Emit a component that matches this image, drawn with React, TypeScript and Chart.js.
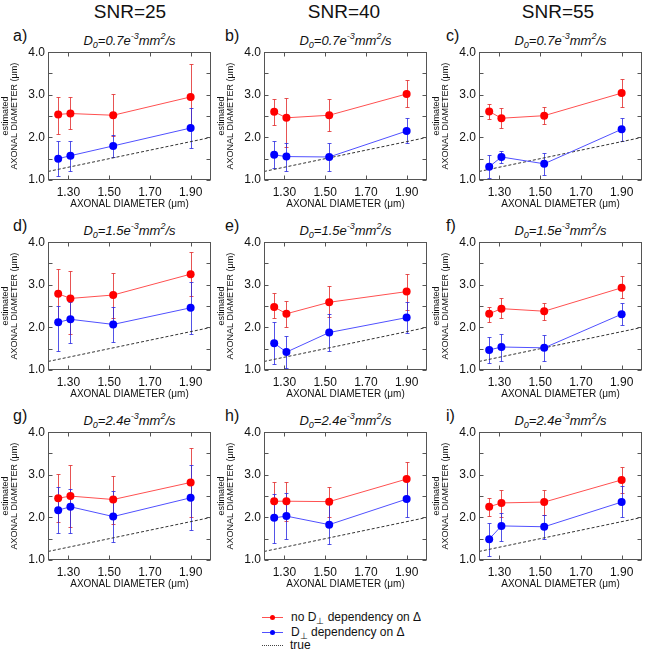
import React, { useEffect, useRef } from 'react';
import { Chart, registerables } from 'chart.js';

Chart.register(...registerables);

const FONT = '"Liberation Sans", Arial, Helvetica, sans-serif';

// ---------- data ----------
const diameters = [1.25, 1.31, 1.52, 1.9];
const trueLine = [1.2, 2.0];
const xTickValues = [1.3, 1.5, 1.7, 1.9];
const snrLabels = ['SNR=25', 'SNR=40', 'SNR=55'];
const d0Labels = ['0.7', '1.5', '2.4'];
const panelLetters = ['a)', 'b)', 'c)', 'd)', 'e)', 'f)', 'g)', 'h)', 'i)'];
const legendLabels = ['no D', 'D', 'true'];

// panel a (D0=0.7, SNR=25)
const aRed = [2.54, 2.56, 2.52, 2.95];
const aRedLo = [2.09, 2.19, 2.03, 2.2];
const aRedHi = [2.96, 2.94, 3.01, 3.72];
const aBlue = [1.5, 1.57, 1.8, 2.22];
const aBlueLo = [1.1, 1.21, 1.54, 1.76];
const aBlueHi = [1.91, 1.91, 2.05, 2.69];
// panel b (D0=0.7, SNR=40)
const bRed = [2.6, 2.46, 2.52, 3.02];
const bRedLo = [2.28, 1.78, 2.15, 2.71];
const bRedHi = [2.9, 2.93, 2.9, 3.34];
const bBlue = [1.59, 1.55, 1.54, 2.15];
const bBlueLo = [1.27, 1.2, 1.2, 1.86];
const bBlueHi = [1.92, 1.88, 1.86, 2.45];
// panel c (D0=0.7, SNR=55)
const cRed = [2.61, 2.45, 2.51, 3.04];
const cRedLo = [2.44, 2.21, 2.31, 2.71];
const cRedHi = [2.78, 2.68, 2.72, 3.37];
const cBlue = [1.31, 1.54, 1.38, 2.19];
const cBlueLo = [1.05, 1.39, 1.12, 1.92];
const cBlueHi = [1.58, 1.69, 1.64, 2.46];
// panel d (D0=1.5, SNR=25)
const dRed = [2.79, 2.68, 2.76, 3.25];
const dRedLo = [2.2, 1.85, 2.23, 2.74];
const dRedHi = [3.36, 3.33, 3.27, 3.78];
const dBlue = [2.12, 2.19, 2.07, 2.46];
const dBlueLo = [1.45, 1.64, 1.66, 1.85];
const dBlueHi = [2.5, 2.6, 2.48, 3.06];
// panel e (D0=1.5, SNR=40)
const eRed = [2.48, 2.32, 2.59, 2.84];
const eRedLo = [2.21, 2.02, 2.24, 2.41];
const eRedHi = [2.8, 2.61, 2.97, 3.26];
const eBlue = [1.63, 1.42, 1.88, 2.23];
const eBlueLo = [1.14, 1.05, 1.45, 1.88];
const eBlueHi = [2.12, 1.8, 2.32, 2.6];
// panel f (D0=1.5, SNR=55)
const fRed = [2.32, 2.44, 2.38, 2.93];
const fRedLo = [2.13, 2.21, 2.18, 2.68];
const fRedHi = [2.49, 2.68, 2.57, 3.2];
const fBlue = [1.47, 1.54, 1.52, 2.31];
const fBlueLo = [1.17, 1.22, 1.2, 2.05];
const fBlueHi = [1.78, 1.85, 1.83, 2.57];
// panel g (D0=2.4, SNR=25)
const gRed = [2.45, 2.5, 2.42, 2.82];
const gRedLo = [1.89, 1.78, 1.85, 2.02];
const gRedHi = [3.01, 3.23, 2.97, 3.62];
const gBlue = [2.17, 2.25, 2.02, 2.46];
const gBlueLo = [1.63, 1.63, 1.42, 1.7];
const gBlueHi = [2.72, 2.67, 2.61, 3.23];
// panel h (D0=2.4, SNR=40)
const hRed = [2.38, 2.38, 2.37, 2.9];
const hRedLo = [1.94, 1.92, 2.02, 2.49];
const hRedHi = [2.82, 2.84, 2.71, 3.29];
const hBlue = [1.99, 2.03, 1.83, 2.43];
const hBlueLo = [1.41, 1.49, 1.37, 2.02];
const hBlueHi = [2.54, 2.57, 2.32, 2.92];
// panel i (D0=2.4, SNR=55)
const iRed = [2.25, 2.34, 2.36, 2.88];
const iRedLo = [2.03, 2.02, 2.06, 2.58];
const iRedHi = [2.46, 2.64, 2.64, 3.18];
const iBlue = [1.49, 1.8, 1.78, 2.36];
const iBlueLo = [1.09, 1.45, 1.49, 2.0];
const iBlueHi = [1.88, 2.1, 2.06, 2.74];

const panels = [
  [aRed, aRedLo, aRedHi, aBlue, aBlueLo, aBlueHi],
  [bRed, bRedLo, bRedHi, bBlue, bBlueLo, bBlueHi],
  [cRed, cRedLo, cRedHi, cBlue, cBlueLo, cBlueHi],
  [dRed, dRedLo, dRedHi, dBlue, dBlueLo, dBlueHi],
  [eRed, eRedLo, eRedHi, eBlue, eBlueLo, eBlueHi],
  [fRed, fRedLo, fRedHi, fBlue, fBlueLo, fBlueHi],
  [gRed, gRedLo, gRedHi, gBlue, gBlueLo, gBlueHi],
  [hRed, hRedLo, hRedHi, hBlue, hBlueLo, hBlueHi],
  [iRed, iRedLo, iRedHi, iBlue, iBlueLo, iBlueHi],
];

// ---------- layout ----------
const PLOT_LEFT = [48, 264, 479];
const PLOT_TOP = [52, 242, 432];
const CANVAS_W = 215;
const CANVAS_H = 172;
const PAD_LEFT = 48;
const PAD_TOP = 10;

const RED_PT = '#ff0000';
const RED_LINE = 'rgb(255,80,80)';
const RED_BAR = 'rgba(225,40,40,0.8)';
const BLUE_PT = '#0000ff';
const BLUE_LINE = 'rgb(80,80,255)';
const BLUE_BAR = 'rgba(40,40,225,0.8)';
const FRAME = '#555555';

function makeDecorPlugin(bars: { lo: number[]; hi: number[]; color: string }[]) {
  return {
    id: 'panelDecor',
    beforeDatasetsDraw(chart: any) {
      const { ctx } = chart;
      const xs = chart.scales.x;
      const ys = chart.scales.y;
      for (const bar of bars) {
        ctx.save();
        ctx.strokeStyle = bar.color;
        ctx.lineWidth = 1;
        bar.lo.forEach((lo, i) => {
          const x = Math.round(xs.getPixelForValue(diameters[i])) + 0.5;
          const y1 = Math.round(ys.getPixelForValue(lo)) + 0.5;
          const y2 = Math.round(ys.getPixelForValue(bar.hi[i])) + 0.5;
          ctx.beginPath();
          ctx.moveTo(x, y1);
          ctx.lineTo(x, y2);
          ctx.moveTo(x - 2, y1);
          ctx.lineTo(x + 2, y1);
          ctx.moveTo(x - 2, y2);
          ctx.lineTo(x + 2, y2);
          ctx.stroke();
        });
        ctx.restore();
      }
    },
    afterDraw(chart: any) {
      const { ctx, chartArea: a } = chart;
      const xs = chart.scales.x;
      const ys = chart.scales.y;
      ctx.save();
      ctx.strokeStyle = FRAME;
      ctx.lineWidth = 1;
      const l = Math.round(a.left) + 0.5;
      const r = Math.round(a.right) - 0.5;
      const t = Math.round(a.top) + 0.5;
      const b = Math.round(a.bottom) - 0.5;
      ctx.strokeRect(l, t, r - l, b - t);
      ctx.beginPath();
      for (const tk of ys.ticks) {
        const y = Math.round(ys.getPixelForValue(tk.value)) + 0.5;
        ctx.moveTo(l, y);
        ctx.lineTo(l + 4, y);
        ctx.moveTo(r, y);
        ctx.lineTo(r - 4, y);
      }
      for (const tk of xs.ticks) {
        const x = Math.round(xs.getPixelForValue(tk.value)) + 0.5;
        ctx.moveTo(x, b);
        ctx.lineTo(x, b - 4);
        ctx.moveTo(x, t);
        ctx.lineTo(x, t + 4);
      }
      ctx.stroke();
      ctx.restore();
    },
  };
}

function Panel({ idx }: { idx: number }) {
  const ref = useRef<HTMLCanvasElement | null>(null);
  const col = idx % 3;
  const row = Math.floor(idx / 3);
  useEffect(() => {
    if (!ref.current) return;
    const [red, redLo, redHi, blue, blueLo, blueHi] = panels[idx];
    const chart = new Chart(ref.current, {
      type: 'line',
      data: {
        datasets: [
          {
            label: 'no D⊥ dependency on Δ',
            data: diameters.map((x, i) => ({ x, y: red[i] })),
            borderColor: RED_LINE,
            backgroundColor: RED_PT,
            pointBackgroundColor: RED_PT,
            pointBorderColor: RED_PT,
            pointBorderWidth: 0,
            pointRadius: 4,
            borderWidth: 1,
            tension: 0,
            order: 1,
          },
          {
            label: 'D⊥ dependency on Δ',
            data: diameters.map((x, i) => ({ x, y: blue[i] })),
            borderColor: BLUE_LINE,
            backgroundColor: BLUE_PT,
            pointBackgroundColor: BLUE_PT,
            pointBorderColor: BLUE_PT,
            pointBorderWidth: 0,
            pointRadius: 4,
            borderWidth: 1,
            tension: 0,
            order: 0,
          },
          {
            label: 'true',
            data: trueLine.map((v) => ({ x: v, y: v })),
            borderColor: '#333333',
            borderDash: [3, 2],
            borderWidth: 1,
            pointRadius: 0,
            order: 2,
          },
        ],
      },
      options: {
        responsive: false,
        animation: false,
        events: [],
        layout: { padding: { left: 0, right: 4, top: PAD_TOP, bottom: 0 } },
        plugins: { legend: { display: false }, tooltip: { enabled: false } },
        scales: {
          x: {
            type: 'linear',
            min: 1.2,
            max: 2.0,
            grid: { display: false, drawTicks: false },
            border: { display: false },
            afterBuildTicks: (s: any) => {
              s.ticks = xTickValues.map((v) => ({ value: v }));
            },
            afterFit: (s: any) => {
              s.height = 34;
            },
            ticks: {
              padding: 5,
              autoSkip: false,
              maxRotation: 0,
              color: '#111',
              font: { size: 12, family: FONT },
              callback: (v: any) => Number(v).toFixed(2),
            },
            title: {
              display: true,
              text: 'AXONAL DIAMETER (μm)',
              color: '#111',
              font: { size: 10, family: FONT, lineHeight: 1 },
              padding: { top: 0, bottom: 5 },
            },
          },
          y: {
            type: 'linear',
            min: 1,
            max: 4,
            grid: { display: false, drawTicks: false },
            border: { display: false },
            afterFit: (s: any) => {
              s.width = PAD_LEFT;
            },
            ticks: {
              stepSize: 0.5,
              autoSkip: false,
              padding: 3,
              color: '#111',
              font: { size: 12, family: FONT },
              callback: (v: any) => (Math.abs(v - Math.round(v)) < 1e-6 ? Number(v).toFixed(1) : ''),
            },
            title: {
              display: true,
              text: ['estimated', 'AXONAL DIAMETER (μm)'],
              color: '#111',
              font: { size: 9, family: FONT, lineHeight: 1 },
              padding: { top: 1.5, bottom: 0 },
            },
          },
        },
      },
      plugins: [
        makeDecorPlugin([
          { lo: redLo, hi: redHi, color: RED_BAR },
          { lo: blueLo, hi: blueHi, color: BLUE_BAR },
        ]),
      ],
    } as any);
    return () => chart.destroy();
  }, [idx]);
  return (
    <canvas
      ref={ref}
      width={CANVAS_W}
      height={CANVAS_H}
      style={{
        position: 'absolute',
        left: PLOT_LEFT[col] - PAD_LEFT,
        top: PLOT_TOP[row] - PAD_TOP,
        width: CANVAS_W,
        height: CANVAS_H,
      }}
    />
  );
}

const LETTER_LEFT = [13, 225, 446];
const SNR_CENTER = [130, 344, 558];

export default function App() {
  const subStyle: React.CSSProperties = { fontSize: 9, lineHeight: 0, verticalAlign: '-3px' };
  const supStyle: React.CSSProperties = { fontSize: 9, lineHeight: 0, verticalAlign: '6px' };
  return (
    <div
      style={{
        position: 'absolute',
        left: 0,
        top: 0,
        width: 646,
        height: 650,
        overflow: 'hidden',
        background: '#ffffff',
        fontFamily: FONT,
        color: '#111',
      }}
    >
      {snrLabels.map((s, c) => (
        <div
          key={s}
          style={{
            position: 'absolute',
            left: SNR_CENTER[c] - 60,
            width: 120,
            top: 2,
            textAlign: 'center',
            fontSize: 19,
            lineHeight: '20px',
          }}
        >
          {s}
        </div>
      ))}
      {panelLetters.map((p, idx) => {
        const col = idx % 3;
        const row = Math.floor(idx / 3);
        return (
          <React.Fragment key={p}>
            <div
              style={{
                position: 'absolute',
                left: LETTER_LEFT[col],
                top: PLOT_TOP[row] - 25,
                fontSize: 16,
                lineHeight: '18px',
              }}
            >
              {p}
            </div>
            <div
              style={{
                position: 'absolute',
                left: PLOT_LEFT[col],
                width: 163,
                top: PLOT_TOP[row] - 19,
                textAlign: 'center',
                fontSize: 13,
                lineHeight: '16px',
                fontStyle: 'italic',
                whiteSpace: 'nowrap',
              }}
            >
              D<span style={subStyle}>0</span>={d0Labels[row]}e<span style={supStyle}>-3</span>mm
              <span style={supStyle}>2</span>/s
            </div>
            <Panel idx={idx} />
          </React.Fragment>
        );
      })}
      {/* legend */}
      <div style={{ position: 'absolute', left: 262, top: 617, width: 21, height: 1, background: RED_LINE }} />
      <div
        style={{ position: 'absolute', left: 270, top: 615, width: 5, height: 5, borderRadius: 3, background: RED_PT }}
      />
      <div style={{ position: 'absolute', left: 291, top: 610, fontSize: 12, lineHeight: '14px', whiteSpace: 'nowrap' }}>
        {legendLabels[0]}
        <span style={{ fontSize: 9, lineHeight: 0, verticalAlign: '-3px' }}>⊥</span> dependency on Δ
      </div>
      <div style={{ position: 'absolute', left: 262, top: 632, width: 21, height: 1, background: BLUE_LINE }} />
      <div
        style={{ position: 'absolute', left: 270, top: 630, width: 5, height: 5, borderRadius: 3, background: BLUE_PT }}
      />
      <div style={{ position: 'absolute', left: 291, top: 625, fontSize: 12, lineHeight: '14px', whiteSpace: 'nowrap' }}>
        {legendLabels[1]}
        <span style={{ fontSize: 9, lineHeight: 0, verticalAlign: '-3px' }}>⊥</span> dependency on Δ
      </div>
      <div style={{ position: 'absolute', left: 262, top: 645, width: 21, height: 0, borderTop: '1px dotted #444' }} />
      <div style={{ position: 'absolute', left: 290, top: 638, fontSize: 12, lineHeight: '14px', whiteSpace: 'nowrap' }}>
        {legendLabels[2]}
      </div>
    </div>
  );
}
